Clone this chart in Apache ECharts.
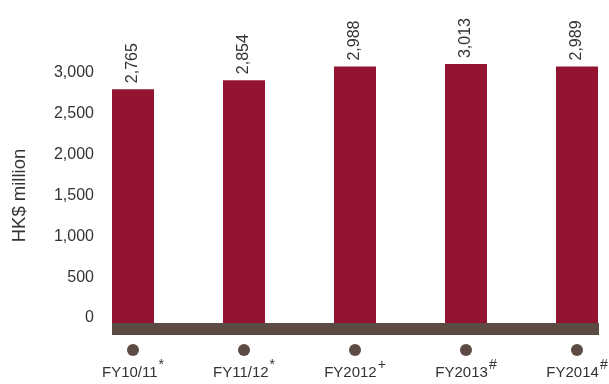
<!DOCTYPE html>
<html>
<head>
<meta charset="utf-8">
<script src="https://cdn.jsdelivr.net/npm/echarts@6/dist/echarts.min.js"></script>
<style>
html,body{margin:0;padding:0;background:#fff;}
#c{width:609px;height:384px;}
</style>
</head>
<body>
<div id="c"></div>
<script>
var categories = ['FY10/11', 'FY11/12', 'FY2012', 'FY2013', 'FY2014'];
var footnoteMarks = ['*', '*', '+', '#', '#'];
var values = [2765, 2854, 2988, 3013, 2989];
var yTicks = [0, 500, 1000, 1500, 2000, 2500, 3000];

var FONT = '"Liberation Sans", Arial, Helvetica, sans-serif';
var TEXT = '#333333';
var RED = '#931430';
var BROWN = '#5b4b43';

function fmt(v) { return String(v).replace(/\B(?=(\d{3})+(?!\d))/g, ','); }

var chart = echarts.init(document.getElementById('c'), null, {renderer: 'canvas'});
chart.setOption({
  animation: false,
  backgroundColor: '#ffffff',
  grid: [
    {left: 112, right: 10, top: 73, bottom: 66, outerBoundsMode: 'none', containLabel: false},
    {left: 77.5, width: 555, top: 40, bottom: 61, outerBoundsMode: 'none', containLabel: false},
    {left: 112, right: 10, height: 10, bottom: 55, outerBoundsMode: 'none', containLabel: false}
  ],
  xAxis: [
    {
      gridIndex: 0, type: 'category', data: categories, show: false
    },
    {
      gridIndex: 1, type: 'category', data: categories,
      axisLine: {show: false}, axisTick: {show: false}, splitLine: {show: false},
      axisLabel: {
        margin: 21,
        interval: 0,
        formatter: function (v, i) {
          return '{dot|}\n{name|' + v + '}{sup|' + footnoteMarks[i] + '}';
        },
        rich: {
          dot: {width: 12, height: 12, borderRadius: 6, backgroundColor: BROWN, lineHeight: 12},
          name: {fontFamily: FONT, fontSize: 15, color: TEXT, lineHeight: 34},
          sup: {fontFamily: FONT, fontSize: 14, color: TEXT, lineHeight: 34, padding: [0, 0, 16, 1]}
        }
      }
    },
    {
      gridIndex: 2, type: 'category', data: categories,
      axisLine: {show: true, lineStyle: {color: BROWN, width: 12, cap: 'butt'}},
      axisTick: {show: false}, axisLabel: {show: false}, splitLine: {show: false}
    }
  ],
  yAxis: [
    {
      gridIndex: 0, type: 'value', min: yTicks[0], max: yTicks[yTicks.length - 1], interval: 500,
      name: 'HK$ million', nameLocation: 'middle', nameGap: 83, nameRotate: 90,
      nameTextStyle: {fontFamily: FONT, fontSize: 18.5, color: TEXT},
      axisLine: {show: false}, axisTick: {show: false}, splitLine: {show: false},
      axisLabel: {
        margin: 18, fontFamily: FONT, fontSize: 16, color: TEXT,
        formatter: function (v) { return fmt(v); }
      }
    },
    {
      gridIndex: 1, type: 'value', min: 460, max: 3250, show: false,
      splitLine: {show: false}
    },
    {
      gridIndex: 2, type: 'value', show: false, splitLine: {show: false}
    }
  ],
  series: [
    {
      type: 'bar', xAxisIndex: 1, yAxisIndex: 1, data: values,
      barWidth: 42, itemStyle: {color: RED},
      label: {
        show: true, position: 'top', rotate: 90, align: 'left', verticalAlign: 'middle',
        distance: 6, fontFamily: FONT, fontSize: 16, color: TEXT,
        formatter: function (p) { return fmt(p.value); }
      }
    }
  ]
});
</script>
</body>
</html>
